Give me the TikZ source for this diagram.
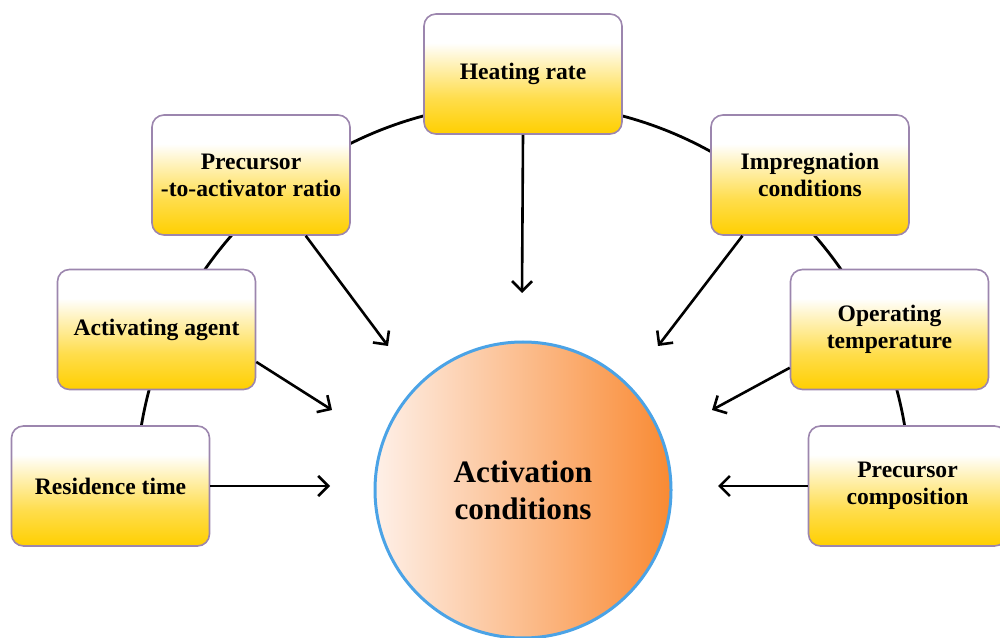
\documentclass[tikz,border=0pt]{standalone}
\usepackage{fontspec}
\setmainfont{Liberation Serif}
\usetikzlibrary{arrows.meta}

\definecolor{boxgold}{HTML}{FFCF00}
\definecolor{boxedge}{HTML}{9C86AE}
\definecolor{peachleft}{HTML}{FEF0E8}
\definecolor{peachright}{HTML}{F98A33}
\definecolor{ringblue}{HTML}{4BA3E6}

\pgfdeclarelayer{back}
\pgfsetlayers{back,main}

\pgfdeclareverticalshading{goldfade}{100bp}{color(0bp)=(boxgold); color(25bp)=(boxgold); color(40bp)=(boxgold!70!white); color(55bp)=(boxgold!25!white); color(63bp)=(white); color(100bp)=(white)}

\tikzset{
  factor/.style={draw=boxedge, line width=0.8pt, rounded corners=6pt, shade, shading=goldfade,
    minimum width=99pt, minimum height=60pt, align=center,
    font=\fontsize{11.8}{13.5}\selectfont\bfseries},
  hub/.style={circle, draw=ringblue, line width=1.5pt, left color=peachleft, right color=peachright,
    minimum size=148pt, align=center, font=\fontsize{15.6}{18.5}\selectfont\bfseries},
  link/.style={line width=1.4pt},
  feed/.style={line width=1.3pt, -{Straight Barb[length=5pt,width=10pt]}}
}

\begin{document}
\begin{tikzpicture}[x=0.5pt,y=0.5pt]
  \useasboundingbox (0,0) rectangle (1000,637);

  % Centre
  \node[hub] (act) at (523,147) {Activation\\conditions};

  % Factors
  \node[factor] (heat)  at (523,563)   {Heating rate};
  \node[factor] (ratio) at (251,462)   {Precursor\\-to-activator ratio};
  \node[factor] (imp)   at (810,462)   {Impregnation\\conditions};
  \node[factor] (agent) at (156.5,307.5) {Activating agent};
  \node[factor] (op)    at (889.5,307.5) {Operating\\temperature};
  \node[factor] (res)   at (110.5,151) {Residence time};
  \node[factor] (comp)  at (907.5,151) {Precursor\\composition};

  % Ring joining the factors
  \begin{pgfonlayer}{back}
    \draw[link] ([shift={(175:387)}]act.center) arc[start angle=175, end angle=5, radius=193.5pt];
  \end{pgfonlayer}

  % Arrow tips
  \coordinate (heatTip)  at (522,344);
  \coordinate (ratioTip) at (388,291);
  \coordinate (impTip)   at (658,291);
  \coordinate (agentTip) at (332,227);
  \coordinate (opTip)    at (712,227);
  \coordinate (resTip)   at (330,151);
  \coordinate (compTip)  at (718,151);

  \draw[feed] (heat.south) -- (heatTip);
  \draw[feed] (ratio.-48) -- (ratioTip);
  \draw[feed] (imp.-138) -- (impTip);
  \draw[feed] (agent.-18) -- (agentTip);
  \draw[feed] (op.201) -- (opTip);
  \draw[feed] (res.east) -- (resTip);
  \draw[feed] (comp.west) -- (compTip);
\end{tikzpicture}
\end{document}
